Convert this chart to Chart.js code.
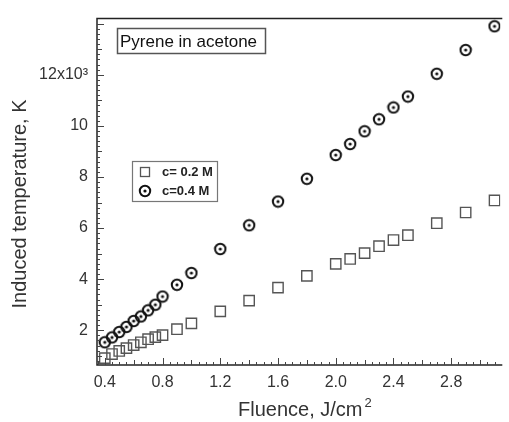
<!DOCTYPE html>
<html>
<head>
<meta charset="utf-8">
<script src="https://cdn.jsdelivr.net/npm/chart.js@4"></script>
<style>
  html, body { margin: 0; padding: 0; background: #fff; }
  #wrap { width: 509px; height: 422px; position: relative; }
</style>
</head>
<body>
<div id="wrap"><canvas id="tempChart"></canvas></div>
<script>
// Induced temperature vs fluence, pyrene in acetone
const fluence02 = [0.4, 0.45, 0.5, 0.55, 0.6, 0.65, 0.7, 0.75, 0.8, 0.9, 1.0, 1.2, 1.4, 1.6, 1.8, 2.0, 2.1, 2.2, 2.3, 2.4, 2.5, 2.7, 2.9, 3.1];
const temp02 = [910, 1070, 1190, 1300, 1420, 1530, 1650, 1730, 1810, 2040, 2270, 2740, 3160, 3670, 4130, 4600, 4790, 5020, 5290, 5530, 5720, 6190, 6610, 7080];
const fluence04 = [0.4, 0.45, 0.5, 0.55, 0.6, 0.65, 0.7, 0.75, 0.8, 0.9, 1.0, 1.2, 1.4, 1.6, 1.8, 2.0, 2.1, 2.2, 2.3, 2.4, 2.5, 2.7, 2.9, 3.1];
const temp04 = [1530, 1720, 1930, 2130, 2360, 2540, 2780, 3000, 3320, 3780, 4240, 5180, 6110, 7040, 7930, 8860, 9290, 9790, 10260, 10720, 11150, 12040, 12970, 13900];
const seriesLabels = ['c= 0.2 M', 'c=0.4 M'];
const xTicks = [0.4, 0.8, 1.2, 1.6, 2.0, 2.4, 2.8];
const xTickLabels = ['0.4', '0.8', '1.2', '1.6', '2.0', '2.4', '2.8'];
const yTicks = [2000, 4000, 6000, 8000, 10000, 12000];
const yTickLabels = ['2', '4', '6', '8', '10', '12x10³'];

const FONT = '"Liberation Sans", Arial, sans-serif';

// circle marker with a small dot inside
function makeCircleMarker() {
    const c = document.createElement('canvas');
    c.width = 14; c.height = 14;
    const g = c.getContext('2d');
    g.strokeStyle = '#111';
    g.lineWidth = 2;
    g.beginPath();
    g.arc(7, 7, 5.2, 0, Math.PI * 2);
    g.stroke();
    g.fillStyle = '#111';
    g.beginPath();
    g.arc(7, 7, 1.6, 0, Math.PI * 2);
    g.fill();
    return c;
}
const circleMarker = makeCircleMarker();

const decorPlugin = {
    id: 'decor',
    afterDraw(chart) {
        const ctx = chart.ctx;
        const a = chart.chartArea;
        const xs = chart.scales.x, ys = chart.scales.y;
        ctx.save();
        // frame: left, bottom, top
        ctx.strokeStyle = '#222';
        ctx.lineWidth = 1.5;
        ctx.beginPath();
        ctx.moveTo(a.right + 2, a.top);
        ctx.lineTo(a.left, a.top);
        ctx.lineTo(a.left, a.bottom);
        ctx.lineTo(a.right + 2, a.bottom);
        ctx.stroke();

        // inward ticks
        ctx.strokeStyle = '#444';
        ctx.lineWidth = 1;
        for (let i = 7; i <= 63; i++) {
            const v = i * 0.05;
            if (v < xs.min || v > xs.max) continue;
            const px = Math.round(xs.getPixelForValue(v)) + 0.5;
            const major = i % 8 === 0;
            const mid = i % 4 === 0;
            ctx.beginPath();
            ctx.moveTo(px, a.bottom);
            ctx.lineTo(px, a.bottom - (major ? 7 : mid ? 5 : 3));
            ctx.stroke();
        }
        for (let v = 800; v <= 14200; v += 200) {
            const py = Math.round(ys.getPixelForValue(v)) + 0.5;
            if (py < a.top + 1 || py > a.bottom - 1) continue;
            const major = v % 2000 === 0;
            const mid = v % 1000 === 0;
            ctx.beginPath();
            ctx.moveTo(a.left, py);
            ctx.lineTo(a.left + (major ? 7 : mid ? 5 : 3), py);
            ctx.stroke();
        }

        // annotation box
        ctx.strokeStyle = '#555';
        ctx.lineWidth = 1.5;
        ctx.strokeRect(117.5, 28.5, 148, 25);
        ctx.fillStyle = '#111';
        ctx.font = '17px ' + FONT;
        ctx.textBaseline = 'alphabetic';
        ctx.textAlign = 'left';
        ctx.fillText('Pyrene in acetone', 120, 47);

        // legend
        ctx.textBaseline = 'middle';
        ctx.strokeStyle = '#777';
        ctx.lineWidth = 1.2;
        ctx.strokeRect(132.5, 161.5, 85, 40);
        ctx.strokeStyle = '#555';
        ctx.lineWidth = 1.3;
        ctx.strokeRect(140.5, 167.5, 9, 9);
        ctx.drawImage(circleMarker, 138, 184);
        ctx.fillStyle = '#222';
        ctx.font = 'bold 13px ' + FONT;
        ctx.fillText(seriesLabels[0], 162, 172);
        ctx.fillText(seriesLabels[1], 162, 191);

        // axis titles
        ctx.fillStyle = '#333';
        ctx.font = '20px ' + FONT;
        ctx.textAlign = 'center';
        ctx.save();
        ctx.translate(20, 204);
        ctx.rotate(-Math.PI / 2);
        ctx.fillText('Induced temperature, K', 0, 0);
        ctx.restore();
        ctx.textAlign = 'left';
        ctx.textBaseline = 'alphabetic';
        const main = 'Fluence, J/cm';
        ctx.fillText(main, 238, 416);
        const w = ctx.measureText(main).width;
        ctx.font = '13px ' + FONT;
        ctx.fillText('2', 238 + w + 2, 407);
        ctx.restore();
    }
};

const tempCtx = document.getElementById('tempChart');
const tempChart = new Chart(tempCtx.getContext('2d'), {
    type: 'scatter',
    data: {
        datasets: [{
            label: seriesLabels[0],
            data: fluence02.map((x, i) => ({ x: x, y: temp02[i] })),
            pointStyle: 'rect',
            pointRadius: 7.3,
            pointBorderWidth: 1.4,
            borderColor: '#555',
            backgroundColor: 'rgba(0,0,0,0)'
        }, {
            label: seriesLabels[1],
            data: fluence04.map((x, i) => ({ x: x, y: temp04[i] })),
            pointStyle: circleMarker,
            borderColor: '#111',
            backgroundColor: 'rgba(0,0,0,0)'
        }]
    },
    options: {
        responsive: true,
        maintainAspectRatio: false,
        animation: false,
        layout: { padding: { top: 15, left: 0, right: 0, bottom: 0 } },
        scales: {
            x: {
                type: 'linear',
                min: 0.346,
                max: 3.14,
                border: { display: false },
                grid: { display: false, drawTicks: false },
                afterBuildTicks: (s) => { s.ticks = xTicks.map(v => ({ value: v })); },
                afterFit: (s) => { s.height = 57; },
                ticks: {
                    autoSkip: false,
                    maxRotation: 0,
                    padding: 8,
                    color: '#333',
                    font: { size: 16, family: FONT },
                    callback: (v) => xTickLabels[xTicks.indexOf(v)]
                }
            },
            y: {
                type: 'linear',
                min: 640,
                max: 14200,
                border: { display: false },
                grid: { display: false, drawTicks: false },
                afterBuildTicks: (s) => { s.ticks = yTicks.map(v => ({ value: v })); },
                afterFit: (s) => { s.width = 97; },
                ticks: {
                    autoSkip: false,
                    padding: 9,
                    color: '#333',
                    font: { size: 16, family: FONT },
                    callback: (v) => yTickLabels[yTicks.indexOf(v)]
                }
            }
        },
        plugins: {
            legend: { display: false },
            tooltip: { enabled: false }
        }
    },
    plugins: [decorPlugin]
});
</script>
</body>
</html>
